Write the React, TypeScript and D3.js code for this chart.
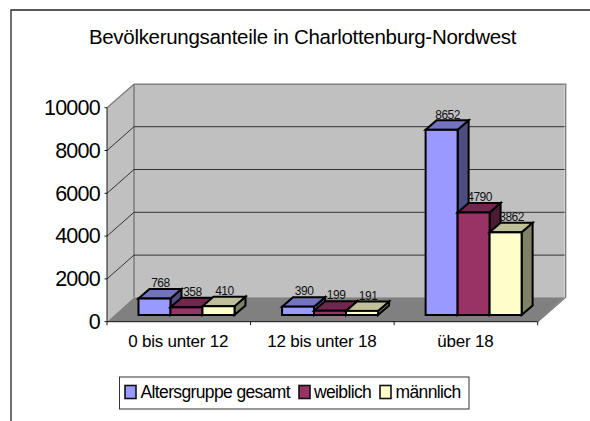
import React from 'react';
import * as d3 from 'd3';

const title = 'Bevölkerungsanteile in Charlottenburg-Nordwest';
const categories = ['0 bis unter 12', '12 bis unter 18', 'über 18'];
const seriesNames = ['Altersgruppe gesamt', 'weiblich', 'männlich'];
const gesamt = [768, 390, 8652];
const weiblich = [358, 199, 4790];
const maennlich = [410, 191, 3862];
const yTicks = [0, 2000, 4000, 6000, 8000, 10000];
const front = ['#9999ff', '#993366', '#ffffcc'];
const topFace = ['#7373bf', '#73264d', '#bfbf99'];
const sideFace = ['#4d4d80', '#4d1a33', '#808066'];
const allSeries = [gesamt, weiblich, maennlich];

const FONT = '"Liberation Sans", Arial, sans-serif';
const W = 590, H = 421;
const x0 = 107, x1 = 537.7, yBase = 321.7, yTop = 107.7;
const dx = 27, dy = 24.5, gridDy = 23.8;
const barBase = 315;
const barW = 32, bdx = 11, bdy = 9.5;

const xScale = d3.scaleBand<string>().domain(categories).range([x0, x1]);
const yScale = d3.scaleLinear().domain([0, 10000]).range([yBase, yTop]);
const line = d3.line<[number, number]>();
const poly = (pts: [number, number][]) => line(pts) + 'Z';
const groupLeft = (c: string) => xScale(c)! + xScale.bandwidth() / 2 - 1.5 * barW + 7.7;

export default function App() {
  const bars: React.ReactNode[] = [];
  const labels: React.ReactNode[] = [];
  categories.forEach((c, ci) => {
    const gx = groupLeft(c);
    allSeries.forEach((s, si) => {
      const v = s[ci];
      const h = yBase - yScale(v);
      const l = gx + si * barW, r = l + barW, t = barBase - h, b = barBase;
      bars.push(
        <g key={`${ci}-${si}`} stroke="#000" strokeWidth={2} strokeLinejoin="miter">
          <path d={poly([[r, b], [r + bdx, b - bdy], [r + bdx, t - bdy], [r, t]])} fill={sideFace[si]} />
          <path d={poly([[l, t], [l + bdx, t - bdy], [r + bdx, t - bdy], [r, t]])} fill={topFace[si]} />
          <rect x={l} y={t} width={barW} height={h} fill={front[si]} />
        </g>
      );
      labels.push(
        <text key={`${ci}-${si}`} x={l + barW / 2 + 6} y={t - 11.3}
          textAnchor="middle" fontSize={12} letterSpacing={-0.45} fill="#111">{v}</text>
      );
    });
  });
  const legendItems = [
    { sx: 125, tx: 140.5 },
    { sx: 299, tx: 314 },
    { sx: 380, tx: 395.5 },
  ];
  return (
    <svg width={W} height={H} viewBox={`0 0 ${W} ${H}`} fontFamily={FONT}
      style={{ position: 'absolute', left: 0, top: 0, background: '#fff' }}>
      <rect x={0} y={0} width={W} height={H} fill="#fff" />
      <path d={`M11,${H}V10H${W}`} fill="none" stroke="#222" strokeWidth={1.3} />
      <text x={302.5} y={44} textAnchor="middle" fontSize={20.5} letterSpacing={-0.3} fill="#000">{title}</text>

      {/* walls */}
      <path d={poly([[x0, yBase], [x0 + dx, yBase - dy], [x0 + dx, yTop - dy + 1], [x0, yTop]])} fill="#c0c0c0" />
      <rect x={x0 + dx} y={yTop - dy + 1} width={x1 - x0} height={yBase - yTop - 1} fill="#c0c0c0" />
      <path d={poly([[x0, yBase], [x1, yBase], [x1 + dx, yBase - dy], [x0 + dx, yBase - dy]])} fill="#808080" />
      <path d={`M${x0},${yTop}L${x0 + dx},${yTop - dy + 1}H${x1 + dx + 1}V${yBase - dy}L${x1},${yBase}`}
        fill="none" stroke="#808080" strokeWidth={1.4} />
      <path d={`M${x0 + dx},${yTop - dy + 1}V${yBase - dy}`} stroke="#808080" strokeWidth={1.6} fill="none" />

      {/* gridlines */}
      {yTicks.filter(t => t > 0 && t < 10000).map(t => (
        <path key={t} d={`M${x0},${yScale(t)}L${x0 + dx},${yScale(t) - gridDy}H${x1 + dx}`}
          fill="none" stroke="#222" strokeWidth={0.9} />
      ))}

      {/* axes */}
      <path d={`M${x0},${yTop}V${yBase}H${x1}`} fill="none" stroke="#000" strokeWidth={0.9} />
      {yTicks.map(t => (
        <g key={t}>
          <line x1={x0 - 2.5} x2={x0} y1={yScale(t)} y2={yScale(t)} stroke="#000" strokeWidth={0.9} />
          <text x={x0 - 7} y={yScale(t) + 7.3} textAnchor="end" fontSize={21.5} letterSpacing={-0.75} fill="#000">{t}</text>
        </g>
      ))}
      {[...categories.map(c => xScale(c)!), x1].map((x, i) => (
        <line key={i} x1={x} x2={x} y1={yBase} y2={yBase + 3.5} stroke="#000" strokeWidth={0.9} />
      ))}
      {categories.map(c => (
        <text key={c} x={xScale(c)! + xScale.bandwidth() / 2 - 0.5} y={346.7} textAnchor="middle"
          fontSize={17} letterSpacing={-0.22} fill="#000">{c}</text>
      ))}

      {bars}
      {labels}

      {/* legend */}
      <rect x={119.5} y={377} width={349.5} height={32} fill="#fff" stroke="#333" strokeWidth={1} />
      {seriesNames.map((n, i) => (
        <g key={n}>
          <rect x={legendItems[i].sx} y={385.5} width={11} height={13} fill={front[i]} stroke="#111" strokeWidth={1.6} />
          <text x={legendItems[i].tx} y={398} fontSize={17.5} letterSpacing={-0.63} fill="#000">{n}</text>
        </g>
      ))}
    </svg>
  );
}
